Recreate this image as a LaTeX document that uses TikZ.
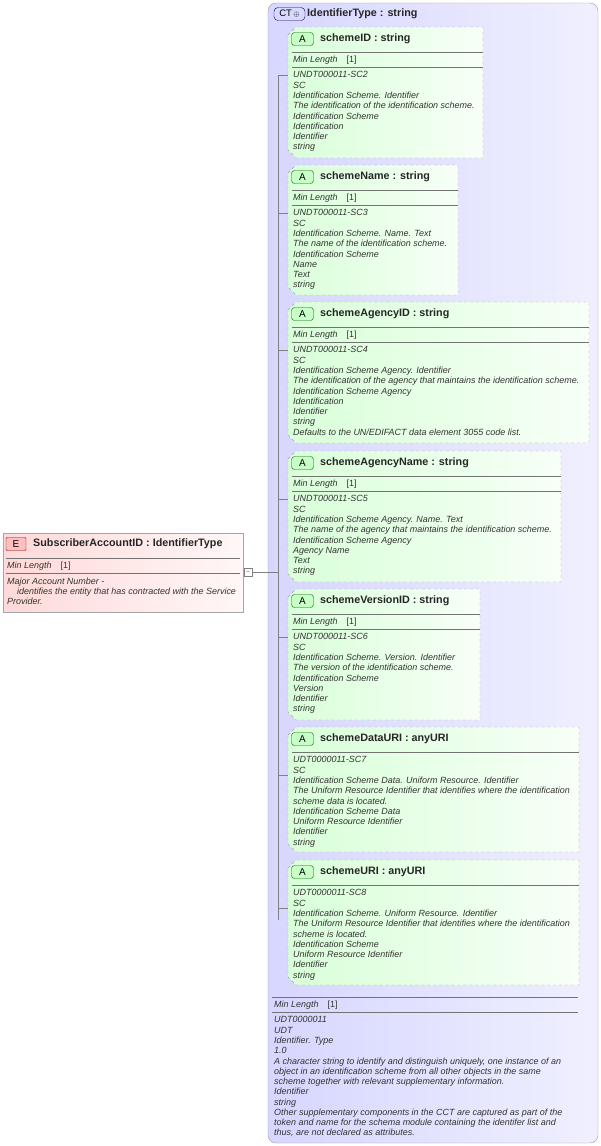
\documentclass[tikz,border=0pt]{standalone}
\usepackage{fontspec}
\setmainfont{Liberation Sans}
\usetikzlibrary{positioning}

\newcommand{\attrbox}[4]{% name, right x, top y, bottom y
  \draw[attrframe] (288,#3+8) -- (296,#3) -- (#2,#3) -- (#2,#4) -- (296,#4) -- (288,#4-8) -- cycle;
  \node[badge, fill=green!22, draw=green!40!black] (#1badge) at (302.5,#3+12) {A};
  \coordinate (#1) at (288,#3+48);
}

\begin{document}
\begin{tikzpicture}[
    x=1bp, y=-1bp,
    title/.style={font=\fontsize{10.8}{12}\selectfont\bfseries, text=black!85, anchor=west, inner sep=0},
    body/.style={font=\fontsize{9}{10.3}\selectfont\itshape, text=black!80, anchor=north west, align=left, inner sep=0, yshift=-2.5bp},
    minlen/.style={font=\fontsize{9}{10}\selectfont, text=black!80, anchor=west, inner sep=0},
    badge/.style={rounded corners=3bp, minimum width=22bp, minimum height=13bp, inner sep=0, font=\fontsize{10}{10}\selectfont},
    attrframe/.style={draw=black!35, dashed, left color=green!15, right color=green!3},
    rule/.style={draw=black!55, line width=0.6pt},
    wire/.style={draw=black!50, line width=0.5pt}
]
\useasboundingbox (0,0) rectangle (601,1146);

% Complex type
\draw[draw=black!40, rounded corners=8bp, left color=blue!16, right color=blue!6] (268,3) rectangle (598,1143);
\node[badge, fill=blue!15, draw=blue!40!black, rounded corners=4bp, minimum width=31bp, font=\fontsize{9.5}{10}\selectfont] (ctbadge) at (289.5,14) {CT\,{\scriptsize$\oplus$}};
\node[title] (cttitle) at (307,14) {IdentifierType : string};

% schemeID
\attrbox{a1}{483}{27}{158}
\node[title] at (320,39) {schemeID : string};
\draw[rule] (292,52) -- (483,52); \draw[rule] (292,67) -- (483,67);
\node[minlen] at (293,60) {\textit{Min Length}\quad [1]};
\node[body] at (293,69) {UNDT000011-SC2\\SC\\Identification Scheme. Identifier\\The identification of the identification scheme.\\Identification Scheme\\Identification\\Identifier\\string};

% schemeName
\attrbox{a2}{458}{165}{295}
\node[title] at (320,177) {schemeName : string};
\draw[rule] (292,190) -- (458,190); \draw[rule] (292,205) -- (458,205);
\node[minlen] at (293,198) {\textit{Min Length}\quad [1]};
\node[body] at (293,207) {UNDT000011-SC3\\SC\\Identification Scheme. Name. Text\\The name of the identification scheme.\\Identification Scheme\\Name\\Text\\string};

% schemeAgencyID
\attrbox{a3}{589}{302}{443}
\node[title] at (320,314) {schemeAgencyID : string};
\draw[rule] (292,327) -- (589,327); \draw[rule] (292,342) -- (589,342);
\node[minlen] at (293,335) {\textit{Min Length}\quad [1]};
\node[body] at (293,344) {UNDT000011-SC4\\SC\\Identification Scheme Agency. Identifier\\The identification of the agency that maintains the identification scheme.\\Identification Scheme Agency\\Identification\\Identifier\\string\\Defaults to the UN/EDIFACT data element 3055 code list.};

% schemeAgencyName
\attrbox{a4}{561}{451}{582}
\node[title] at (320,463) {schemeAgencyName : string};
\draw[rule] (292,476) -- (561,476); \draw[rule] (292,491) -- (561,491);
\node[minlen] at (293,484) {\textit{Min Length}\quad [1]};
\node[body] at (293,493) {UNDT000011-SC5\\SC\\Identification Scheme Agency. Name. Text\\The name of the agency that maintains the identification scheme.\\Identification Scheme Agency\\Agency Name\\Text\\string};

% schemeVersionID
\attrbox{a5}{480}{589}{720}
\node[title] at (320,601) {schemeVersionID : string};
\draw[rule] (292,614) -- (480,614); \draw[rule] (292,629) -- (480,629);
\node[minlen] at (293,622) {\textit{Min Length}\quad [1]};
\node[body] at (293,631) {UNDT000011-SC6\\SC\\Identification Scheme. Version. Identifier\\The version of the identification scheme.\\Identification Scheme\\Version\\Identifier\\string};

% schemeDataURI
\attrbox{a6}{579}{727}{852}
\node[title] at (320,739) {schemeDataURI : anyURI};
\draw[rule] (292,752) -- (579,752);
\node[body] at (293,754) {UDT0000011-SC7\\SC\\Identification Scheme Data. Uniform Resource. Identifier\\The Uniform Resource Identifier that identifies where the identification\\scheme data is located.\\Identification Scheme Data\\Uniform Resource Identifier\\Identifier\\string};

% schemeURI
\attrbox{a7}{579}{860}{985}
\node[title] at (320,872) {schemeURI : anyURI};
\draw[rule] (292,885) -- (579,885);
\node[body] at (293,887) {UDT0000011-SC8\\SC\\Identification Scheme. Uniform Resource. Identifier\\The Uniform Resource Identifier that identifies where the identification\\scheme is located.\\Identification Scheme\\Uniform Resource Identifier\\Identifier\\string};

% Complex type annotation
\draw[rule] (272,997) -- (578,997); \draw[rule] (272,1012) -- (578,1012);
\node[minlen] at (274,1005) {\textit{Min Length}\quad [1]};
\node[body] at (274,1014) {UDT0000011\\UDT\\Identifier. Type\\1.0\\A character string to identify and distinguish uniquely, one instance of an\\object in an identification scheme from all other objects in the same\\scheme together with relevant supplementary information.\\Identifier\\string\\Other supplementary components in the CCT are captured as part of the\\token and name for the schema module containing the identifer list and\\thus, are not declared as attributes.};

% Element
\draw[draw=black!35, left color=red!15, right color=red!3] (3,533) rectangle (243,612);
\node[badge, fill=red!25, draw=red!50!black, rounded corners=1bp, minimum width=20bp] (ebadge) at (16,544) {E};
\node[title] (etitle) at (33,544) {SubscriberAccountID : IdentifierType};
\draw[rule] (6,558) -- (240,558); \draw[rule] (6,573) -- (240,573);
\node[minlen] at (7,566) {\textit{Min Length}\quad [1]};
\node[body] at (7,575) {Major Account Number -\\\hspace*{10bp}identifies the entity that has contracted with the Service\\Provider.};

% Connectors
\node[draw=black!50, fill=white, minimum size=8bp, inner sep=0, font=\tiny] (fold) at (248,572) {$-$};
\coordinate (hub) at (278,572);
\draw[wire] (fold) -- (hub);
\draw[wire] (278,75) -- (278,920);
\foreach \a in {a1,a2,a3,a4,a5,a6,a7}
    \draw[wire] (\a -| hub) -- (\a);

\end{tikzpicture}
\end{document}
